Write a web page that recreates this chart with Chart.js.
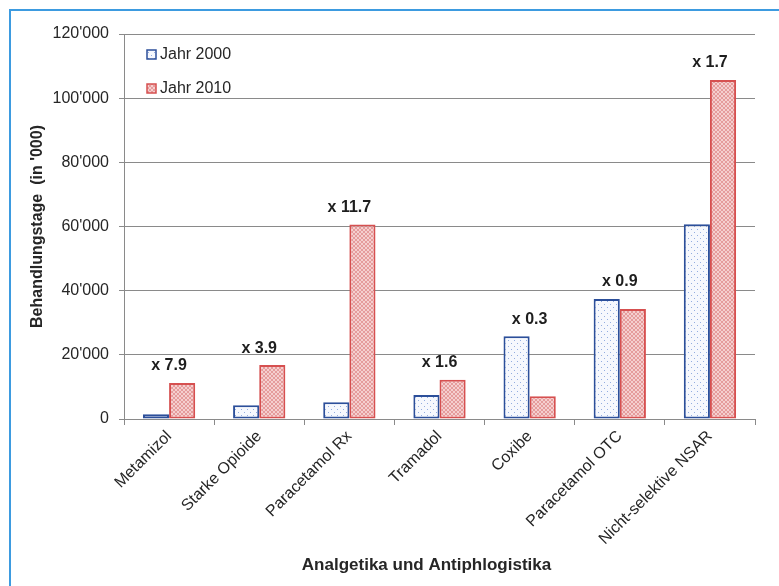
<!DOCTYPE html>
<html>
<head>
<meta charset="utf-8">
<script src="https://cdn.jsdelivr.net/npm/chart.js@4/dist/chart.umd.min.js"></script>
<style>
  html, body { margin: 0; padding: 0; background: #ffffff; }
  #wrap { position: relative; width: 779px; height: 586px; overflow: hidden; }
  #frame {
    position: absolute; left: 9px; top: 9px; width: 800px; height: 600px;
    border-left: 2px solid #3d9be0; border-top: 2px solid #3d9be0;
  }
  #chart { position: absolute; left: 0; top: 0; }
</style>
</head>
<body>
<div id="wrap">
  <div id="frame"></div>
  <canvas id="chart" width="779" height="586"></canvas>
</div>
<script>
// Behandlungstage (in '000) per Wirkstoffgruppe, 2000 vs. 2010
const categories = ['Metamizol', 'Starke Opioide', 'Paracetamol Rx', 'Tramadol', 'Coxibe', 'Paracetamol OTC', 'Nicht-selektive NSAR'];
const seriesNames = ['Jahr 2000', 'Jahr 2010'];
const days2000 = [1450, 4300, 5200, 7500, 25800, 37400, 60700];
const days2010 = [11200, 16800, 60600, 12200, 7100, 34300, 105700];
const growthLabels = ['x 7.9', 'x 3.9', 'x 11.7', 'x 1.6', 'x 0.3', 'x 0.9', 'x 1.7'];
const yTicks = [0, 20000, 40000, 60000, 80000, 100000, 120000];
const xTitle = 'Analgetika und Antiphlogistika';

const FONT = '"Liberation Sans", Arial, sans-serif';
const TEXT = '#262626';

// Fill textures: dotted blue, fine cross-hatched red
function dotPattern() {
  const c = document.createElement('canvas');
  c.width = 6; c.height = 6;
  const g = c.getContext('2d');
  g.fillStyle = '#f6f8fd'; g.fillRect(0, 0, 6, 6);
  g.fillStyle = '#93ade0';
  g.fillRect(1, 1, 1, 1);
  g.fillRect(4, 4, 1, 1);
  return g.createPattern(c, 'repeat');
}
function hatchPattern() {
  const c = document.createElement('canvas');
  c.width = 4; c.height = 4;
  const g = c.getContext('2d');
  g.fillStyle = '#f5cfcf'; g.fillRect(0, 0, 4, 4);
  g.fillStyle = '#e59c9c';
  for (let i = 0; i < 4; i++) {
    g.fillRect(i, i, 1, 1);
    g.fillRect(3 - i, i, 1, 1);
  }
  return g.createPattern(c, 'repeat');
}

const fmt = v => String(v).replace(/\B(?=(\d{3})+(?!\d))/g, "'");

// Growth factor above each pair of bars
const growthPlugin = {
  id: 'growth',
  afterDatasetsDraw(chart) {
    const { ctx, scales: { x, y } } = chart;
    ctx.save();
    ctx.font = 'bold 16px ' + FONT;
    ctx.fillStyle = '#1e1e1e';
    ctx.textAlign = 'center';
    ctx.textBaseline = 'middle';
    growthLabels.forEach((t, i) => {
      const top = Math.max(days2000[i], days2010[i]);
      ctx.fillText(t, x.getPixelForValue(i), y.getPixelForValue(top) - 17);
    });
    ctx.restore();
  }
};

// Category axis title under the rotated labels
const xTitlePlugin = {
  id: 'xTitle',
  afterDraw(chart) {
    const { ctx, chartArea } = chart;
    ctx.save();
    ctx.font = 'bold 17px ' + FONT;
    ctx.fillStyle = TEXT;
    ctx.textAlign = 'center';
    ctx.textBaseline = 'middle';
    ctx.fillText(xTitle, (chartArea.left + chartArea.right) / 2 - 13, 565);
    ctx.restore();
  }
};

// Legend stacked inside the plot, top-left
const innerLegend = {
  id: 'innerLegend',
  afterDraw(chart) {
    const { ctx, chartArea } = chart;
    ctx.save();
    ctx.font = '16px ' + FONT;
    ctx.textBaseline = 'middle';
    ctx.textAlign = 'left';
    chart.data.datasets.forEach((ds, i) => {
      const bx = chartArea.left + 23;
      const by = chartArea.top + 16 + i * 34;
      ctx.fillStyle = ds.backgroundColor;
      ctx.fillRect(bx, by, 9, 9);
      ctx.strokeStyle = ds.borderColor;
      ctx.lineWidth = 1.5;
      ctx.strokeRect(bx, by, 9, 9);
      ctx.fillStyle = TEXT;
      ctx.fillText(ds.label, bx + 13, by + 5);
    });
    ctx.restore();
  }
};

new Chart(document.getElementById('chart'), {
  type: 'bar',
  data: {
    labels: categories,
    datasets: [
      {
        label: seriesNames[0], data: days2000,
        backgroundColor: dotPattern(), borderColor: '#2c4f9a',
        borderWidth: 2, borderSkipped: false,
        categoryPercentage: 0.58, barPercentage: 1.0
      },
      {
        label: seriesNames[1], data: days2010,
        backgroundColor: hatchPattern(), borderColor: '#d65050',
        borderWidth: 2, borderSkipped: false,
        categoryPercentage: 0.58, barPercentage: 1.0
      }
    ]
  },
  options: {
    responsive: false,
    animation: false,
    devicePixelRatio: 1,
    layout: { padding: { left: 0, right: 24, top: 34, bottom: 0 } },
    plugins: {
      legend: { display: false },
      tooltip: { enabled: false },
      title: { display: false }
    },
    scales: {
      x: {
        grid: { display: true, drawOnChartArea: false, drawTicks: true, tickLength: 6, color: '#8a8a8a', offset: true },
        border: { display: true, color: '#8a8a8a', width: 1 },
        ticks: {
          color: TEXT, font: { family: FONT, size: 16 },
          minRotation: 45, maxRotation: 45, autoSkip: false, padding: 2
        },
        afterFit(scale) { scale.height = 167; }
      },
      y: {
        min: 0, max: 120000,
        afterBuildTicks(scale) { scale.ticks = yTicks.map(v => ({ value: v })); },
        grid: { color: '#8a8a8a', lineWidth: 1, tickLength: 5, drawTicks: true },
        border: { display: true, color: '#8a8a8a', width: 1 },
        ticks: {
          color: TEXT, font: { family: FONT, size: 16 }, padding: 10,
          callback: v => fmt(v)
        },
        title: {
          display: true, text: "Behandlungstage  (in '000)",
          color: TEXT,
          font: { family: FONT, size: 16, weight: 'bold' },
          padding: { top: 28, bottom: 0 }
        },
        afterFit(scale) { scale.width = 124; }
      }
    }
  },
  plugins: [growthPlugin, innerLegend, xTitlePlugin]
});
</script>
</body>
</html>
